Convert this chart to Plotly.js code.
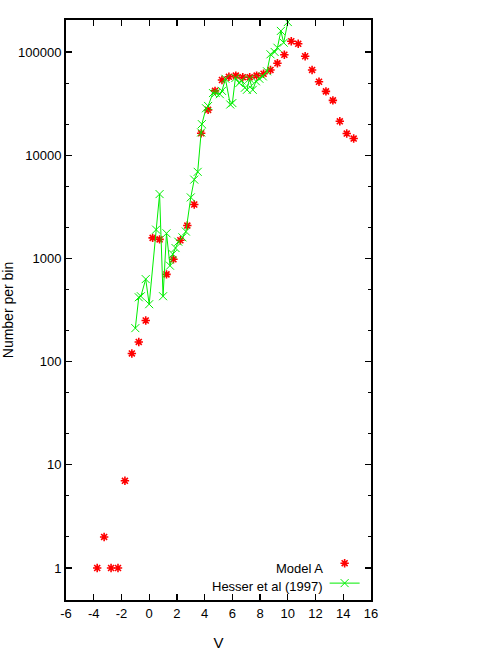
<!DOCTYPE html>
<html>
<head>
<meta charset="utf-8">
<script src="https://cdn.plot.ly/plotly-3.0.1.min.js"></script>
<style>html,body{margin:0;padding:0;background:#fff;}#chart{width:491px;height:654px;}</style>
</head>
<body>
<div id="chart"></div>
<script>
// Model A (red asterisks)
var modelV = [-3.75,-3.25,-2.75,-2.25,-1.75,-1.25,-0.75,-0.25,0.25,0.75,1.25,1.75,2.25,2.75,3.25,3.75,4.25,4.75,5.25,5.75,6.25,6.75,7.25,7.75,8.25,8.75,9.25,9.75,10.25,10.75,11.25,11.75,12.25,12.75,13.25,13.75,14.25,14.75];
var modelN = [1,2,1,1,7,120,155,250,1580,1530,700,980,1500,2080,3330,16300,27500,42000,53500,57500,59000,57000,57000,59000,61500,67000,77700,94000,127000,120000,91000,67000,51500,41500,34000,21300,16200,14500];

// Hesser et al (1997) (green line with x markers)
var hesserV = [-1.0,-0.75,-0.6,-0.25,0.0,0.5,0.75,1.0,1.25,1.5,1.7,1.9,2.1,2.4,2.65,3.0,3.25,3.5,3.75,3.8,4.1,4.25,4.6,4.8,5.1,5.25,5.5,5.85,6.0,6.22,6.5,6.65,6.9,7.05,7.23,7.47,7.7,7.95,8.2,8.5,8.75,9.05,9.25,9.5,9.7,10.0];
var hesserN = [211,420,430,630,360,1900,4200,430,1750,850,1100,1260,1450,1600,1820,3900,5800,6900,16600,20000,28500,30000,40000,40000,39000,42000,55000,31000,32000,56000,50000,53000,45000,43000,55000,43000,52000,55000,58000,65000,95000,100000,110000,160000,123000,195000];

var xTickVals = [-6,-4,-2,0,2,4,6,8,10,12,14,16];
var xTickText = ["-6","-4","-2","0","2","4","6","8","10","12","14","16"];
var yTickVals = [1,10,100,1000,10000,100000];
var yTickText = ["1","10","100","1000","10000","100000"];
var seriesNames = ["Model A", "Hesser et al (1997)"];

var tickFont = {family: "Liberation Sans Narrow, Liberation Sans, Arial, sans-serif", size: 13, color: "#000"};

var traces = [
  {
    x: modelV, y: modelN, type: "scatter", mode: "markers", name: " ",
    marker: {symbol: "asterisk-open", size: 7, color: "#ff0000", line: {color: "#ff0000", width: 1.6}},
    showlegend: true, cliponaxis: false
  },
  {
    x: hesserV, y: hesserN, type: "scatter", mode: "lines+markers", name: " ",
    line: {color: "#00ee00", width: 1},
    marker: {symbol: "x-thin-open", size: 8, color: "#00ee00", line: {color: "#00ee00", width: 1}},
    showlegend: true, cliponaxis: false
  }
];

var layout = {
  width: 491, height: 654,
  margin: {l: 66, r: 120, t: 20, b: 54},
  paper_bgcolor: "#fff", plot_bgcolor: "#fff",
  showlegend: true,
  legend: {x: 0.848, y: 0.003, xanchor: "left", yanchor: "bottom", bgcolor: "rgba(0,0,0,0)",
           font: tickFont, tracegroupgap: 0, itemwidth: 30},
  xaxis: {
    range: [-6, 16], tickmode: "array", tickvals: xTickVals, ticktext: xTickText,
    ticks: "inside", ticklen: 6, tickwidth: 1.2, tickcolor: "#000",
    showline: true, linecolor: "#000", linewidth: 2, mirror: "ticks",
    showgrid: false, zeroline: false, tickfont: tickFont,
    title: {text: "V", font: {family: "Liberation Sans Narrow, Liberation Sans, Arial, sans-serif", size: 15, color: "#000"}, standoff: 18}
  },
  yaxis: {
    type: "log", range: [-0.31, 5.31], tickmode: "array", tickvals: yTickVals, ticktext: yTickText,
    ticks: "inside", ticklen: 6, tickwidth: 1.2, tickcolor: "#000",
    minor: {ticks: "inside", ticklen: 3, tickwidth: 1, tickcolor: "#000", dtick: "D2", showgrid: false},
    showline: true, linecolor: "#000", linewidth: 2, mirror: "ticks",
    showgrid: false, zeroline: false, tickfont: tickFont,
    title: {text: "Number per bin", font: {family: "Liberation Sans, Arial, sans-serif", size: 14, color: "#000"}, standoff: 18}
  },
  annotations: [
    {xref: "paper", yref: "y", x: 0.85, y: 0, text: seriesNames[0], showarrow: false, xanchor: "right", yanchor: "middle", font: tickFont},
    {xref: "paper", yref: "y", x: 0.85, y: -0.18, text: seriesNames[1], showarrow: false, xanchor: "right", yanchor: "middle", font: tickFont}
  ]
};

Plotly.newPlot("chart", traces, layout, {displayModeBar: false, staticPlot: true});
</script>
</body>
</html>
